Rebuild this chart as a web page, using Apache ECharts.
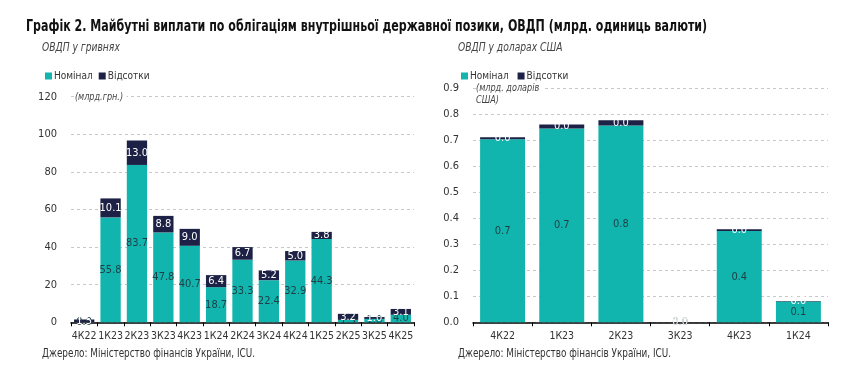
<!DOCTYPE html>
<html><head><meta charset="utf-8">
<script src="https://cdn.jsdelivr.net/npm/echarts@6/dist/echarts.min.js"></script>
<style>html,body{margin:0;padding:0;background:#fff}#c{width:861px;height:370px}</style>
</head><body><div id="c"></div>
<script>
const uahCategories = ['4К22','1К23','2К23','3К23','4К23','1К24','2К24','3К24','4К24','1К25','2К25','3К25','4К25'];
const uahNominal = [0.0, 55.8, 83.7, 47.8, 40.7, 18.7, 33.3, 22.4, 32.9, 44.3, 1.3, 1.8, 4.0];
const uahInterest = [1.5, 10.1, 13.0, 8.8, 9.0, 6.4, 6.7, 5.2, 5.0, 3.8, 3.2, 1.0, 3.1];
const usdCategories = ['4К22','1К23','2К23','3К23','4К23','1К24'];
const usdNominal = [0.704, 0.745, 0.757, 0.0, 0.351, 0.080];
const usdInterest = [0.008, 0.016, 0.020, 0.0, 0.007, 0.002];
const uahTicks = {min: 0, max: 120, interval: 20};
const usdTicks = {min: 0, max: 0.9, interval: 0.1};

const FONT = "'DejaVu Sans Condensed','Liberation Sans Narrow',sans-serif";
const TEAL = '#11b5ad', NAVY = '#1c2145';
const chart = echarts.init(document.getElementById('c'), null, {renderer: 'canvas'});

function lbl(color) {
  return {show: true, position: 'inside', color: color, fontFamily: FONT, fontSize: 11, formatter: p => (+p.value).toFixed(1)};
}
const xAxisBase = {
  type: 'category',
  axisLine: {lineStyle: {color: '#000', width: 1.5}},
  axisTick: {show: true, alignWithLabel: false, length: 4, lineStyle: {color: '#000'}},
  axisLabel: {color: '#333', fontFamily: FONT, fontSize: 10.5, margin: 8, interval: 0, hideOverlap: false}
};
const yAxisBase = {
  type: 'value',
  axisLine: {show: false}, axisTick: {show: false},
  splitLine: {lineStyle: {type: [3, 3], color: '#c8c8c8'}},
  axisLabel: {color: '#333', fontFamily: FONT, fontSize: 11, margin: 14}
};
function txt(x, y, s, font, sx, extra) {
  return Object.assign({type: 'text', x: x, y: y, scaleX: sx, z: 100,
    style: Object.assign({text: s, font: font, fill: '#333', verticalAlign: 'middle'}, extra || {})});
}

chart.setOption({
  animation: false,
  textStyle: {fontFamily: FONT},
  legend: [
    {left: 40, top: 66, itemWidth: 7, itemHeight: 7, itemGap: 6, icon: 'rect', data: ['Номінал', 'Відсотки'],
     textStyle: {fontFamily: FONT, fontSize: 10, color: '#333', padding: [0, 0, 0, -3]}},
    {left: 456, top: 66, itemWidth: 7, itemHeight: 7, itemGap: 6, icon: 'rect', data: ['Номінал ', 'Відсотки '],
     textStyle: {fontFamily: FONT, fontSize: 10, color: '#333', padding: [0, 0, 0, -3]}}
  ],
  grid: [
    {left: 71, top: 96.7, width: 343, height: 225.6},
    {left: 473, top: 88.3, width: 355, height: 234}
  ],
  xAxis: [
    Object.assign({}, xAxisBase, {gridIndex: 0, data: uahCategories}),
    Object.assign({}, xAxisBase, {gridIndex: 1, data: usdCategories})
  ],
  yAxis: [
    Object.assign({}, yAxisBase, {gridIndex: 0, min: uahTicks.min, max: uahTicks.max, interval: uahTicks.interval}),
    Object.assign({}, yAxisBase, {gridIndex: 1, min: usdTicks.min, max: usdTicks.max, interval: usdTicks.interval,
      axisLabel: Object.assign({}, yAxisBase.axisLabel, {formatter: v => v.toFixed(1)})})
  ],
  series: [
    {name: 'Номінал', type: 'bar', stack: 'a', xAxisIndex: 0, yAxisIndex: 0, data: uahNominal, barCategoryGap: '23%',
     itemStyle: {color: TEAL}, label: lbl('#1f3d45')},
    {name: 'Відсотки', type: 'bar', stack: 'a', xAxisIndex: 0, yAxisIndex: 0, data: uahInterest,
     itemStyle: {color: NAVY}, label: lbl('#fff')},
    {name: 'Номінал ', type: 'bar', stack: 'b', xAxisIndex: 1, yAxisIndex: 1, data: usdNominal, barCategoryGap: '24%',
     itemStyle: {color: TEAL}, label: lbl('#1f3d45')},
    {name: 'Відсотки ', type: 'bar', stack: 'b', xAxisIndex: 1, yAxisIndex: 1, data: usdInterest,
     itemStyle: {color: NAVY}, label: lbl('#fff')}
  ],
  graphic: [
    txt(26, 27, 'Графік 2. Майбутні виплати по облігаціям внутрішньої державної позики, ОВДП (млрд. одиниць валюти)', 'bold 15px ' + FONT, 0.82, {fill: '#111'}),
    txt(42, 48, 'ОВДП у гривнях', 'italic 12px ' + FONT, 0.85, {fill: '#444'}),
    txt(458, 48, 'ОВДП у доларах США', 'italic 12px ' + FONT, 0.85, {fill: '#444'}),
    txt(74, 97, '(млрд.грн.)', 'italic 10px ' + FONT, 0.9, {fill: '#444', backgroundColor: '#fff', padding: [2, 4, 2, 1]}),
    txt(476, 94, '(млрд. доларів\nСША)', 'italic 10px ' + FONT, 0.9, {fill: '#444', backgroundColor: '#fff', lineHeight: 12, padding: [1, 5, 1, 0]}),
    txt(42, 354, 'Джерело: Міністерство фінансів України, ICU.', '12px ' + FONT, 0.82),
    txt(458, 354, 'Джерело: Міністерство фінансів України, ICU.', '12px ' + FONT, 0.82)
  ]
});
</script></body></html>
